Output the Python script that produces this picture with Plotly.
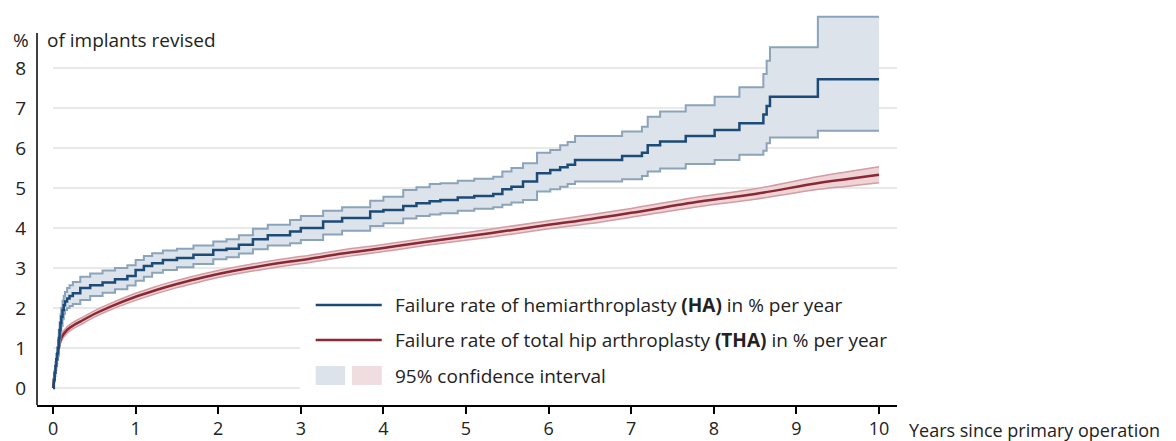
import plotly.graph_objects as go

# hemiarthroplasty (HA): Kaplan-Meier style steps, % revised
ha_years = [0, 0.01, 0.02, 0.03, 0.04, 0.05, 0.06, 0.07, 0.08, 0.09, 0.1, 0.115,
            0.13, 0.145, 0.17, 0.2, 0.24, 0.33, 0.45, 0.6, 0.75, 0.9,
            1.0, 1.1, 1.2, 1.33, 1.5, 1.7, 1.94, 2.1, 2.25, 2.42, 2.6, 2.87,
            3.0, 3.27, 3.5, 3.84, 4.0, 4.24, 4.4, 4.56, 4.69, 4.9, 5.1, 5.33,
            5.44, 5.55, 5.69, 5.86, 6.02, 6.14, 6.23, 6.32, 6.89, 7.13, 7.2,
            7.35, 7.66, 8.01, 8.31, 8.6, 8.64, 8.68, 9.26, 10.0]
ha_rate = [0, 0.2, 0.38, 0.55, 0.72, 0.86, 1.0, 1.25, 1.45, 1.62, 1.78, 1.95,
           2.07, 2.16, 2.24, 2.3, 2.37, 2.5, 2.57, 2.64, 2.72, 2.8,
           2.95, 3.05, 3.12, 3.2, 3.25, 3.33, 3.45, 3.48, 3.58, 3.72, 3.82, 3.91,
           4.0, 4.16, 4.25, 4.41, 4.45, 4.55, 4.62, 4.67, 4.7, 4.76, 4.8, 4.85,
           4.97, 5.03, 5.16, 5.37, 5.45, 5.52, 5.58, 5.7, 5.8, 5.88, 6.07,
           6.16, 6.3, 6.45, 6.62, 6.84, 7.05, 7.28, 7.72, 7.72]
ha_upper = [0, 0.25, 0.45, 0.65, 0.85, 1.02, 1.2, 1.45, 1.65, 1.84, 2.0, 2.18,
            2.3, 2.4, 2.5, 2.57, 2.65, 2.78, 2.86, 2.94, 3.0, 3.07,
            3.2, 3.3, 3.37, 3.44, 3.48, 3.56, 3.66, 3.72, 3.82, 3.98, 4.08, 4.2,
            4.3, 4.43, 4.52, 4.68, 4.78, 4.95, 5.02, 5.1, 5.12, 5.18, 5.23, 5.28,
            5.41, 5.5, 5.62, 5.88, 5.95, 6.07, 6.15, 6.3, 6.41, 6.53, 6.78,
            6.91, 7.07, 7.28, 7.52, 7.85, 8.18, 8.52, 9.28, 9.28]
ha_lower = [0, 0.15, 0.3, 0.45, 0.6, 0.7, 0.8, 1.05, 1.25, 1.4, 1.55, 1.72,
            1.85, 1.95, 2.0, 2.05, 2.1, 2.2, 2.3, 2.38, 2.47, 2.56,
            2.68, 2.78, 2.88, 2.95, 3.02, 3.1, 3.22, 3.27, 3.36, 3.47, 3.56, 3.62,
            3.7, 3.84, 3.93, 4.05, 4.12, 4.24, 4.3, 4.34, 4.37, 4.43, 4.48, 4.52,
            4.58, 4.64, 4.7, 4.91, 4.97, 5.03, 5.1, 5.16, 5.22, 5.3, 5.41,
            5.49, 5.6, 5.7, 5.83, 5.93, 6.12, 6.26, 6.43, 6.43]

# total hip arthroplasty (THA)
tha_years = [0, 0.02, 0.04, 0.07, 0.1, 0.17, 0.25, 0.33, 0.5, 0.69, 1.0, 1.25,
             1.5, 1.75, 2.0, 2.38, 2.87, 3.11, 3.5, 4.0, 4.5, 5.29, 6.0, 6.5,
             7.0, 7.83, 8.5, 9.25, 9.6, 10.0]
tha_rate = [0, 0.35, 0.62, 1.0, 1.25, 1.45, 1.57, 1.66, 1.85, 2.03, 2.28, 2.45,
            2.6, 2.73, 2.85, 3.0, 3.16, 3.23, 3.36, 3.5, 3.65, 3.87, 4.08, 4.22,
            4.38, 4.66, 4.85, 5.12, 5.22, 5.33]
tha_upper = [0, 0.38, 0.67, 1.07, 1.33, 1.53, 1.65, 1.74, 1.93, 2.11, 2.37, 2.54,
             2.69, 2.82, 2.94, 3.09, 3.25, 3.32, 3.45, 3.59, 3.74, 3.97, 4.18, 4.33,
             4.49, 4.78, 4.98, 5.28, 5.40, 5.53]
tha_lower = [0, 0.32, 0.57, 0.93, 1.17, 1.37, 1.49, 1.58, 1.77, 1.95, 2.19, 2.36,
             2.51, 2.64, 2.76, 2.91, 3.07, 3.14, 3.27, 3.41, 3.56, 3.77, 3.98, 4.11,
             4.27, 4.54, 4.72, 4.96, 5.04, 5.13]

x_ticks = list(range(0, 11))
y_ticks = list(range(0, 9))

FONT = "Open Sans"
TXT = "#222222"
HA_LINE = "#1d4b78"
HA_EDGE = "#8ba4bc"
HA_FILL = "#dde3ea"
THA_LINE = "#8c2734"
THA_EDGE = "#d29ca3"
THA_FILL = "#eed4d7"
GRID = "#e9e9e9"

fig = go.Figure()

# THA band + line
fig.add_trace(go.Scatter(x=tha_years, y=tha_lower, mode="lines", line_shape="spline",
                         line=dict(color=THA_EDGE, width=1.5), hoverinfo="skip"))
fig.add_trace(go.Scatter(x=tha_years, y=tha_upper, mode="lines", line_shape="spline",
                         line=dict(color=THA_EDGE, width=1.5), fill="tonexty",
                         fillcolor=THA_FILL, hoverinfo="skip"))
fig.add_trace(go.Scatter(x=tha_years, y=tha_rate, mode="lines", line_shape="spline",
                         line=dict(color=THA_LINE, width=2.5)))

# HA band + line
fig.add_trace(go.Scatter(x=ha_years, y=ha_lower, mode="lines", line_shape="hv",
                         line=dict(color=HA_EDGE, width=2), hoverinfo="skip"))
fig.add_trace(go.Scatter(x=ha_years, y=ha_upper, mode="lines", line_shape="hv",
                         line=dict(color=HA_EDGE, width=2), fill="tonexty",
                         fillcolor=HA_FILL, hoverinfo="skip"))
fig.add_trace(go.Scatter(x=ha_years, y=ha_rate, mode="lines", line_shape="hv",
                         line=dict(color=HA_LINE, width=2.5)))

shapes = []
# horizontal grid lines
for v in y_ticks:
    shapes.append(dict(type="line", layer="below", xref="x", yref="y",
                       x0=0, x1=10.22, y0=v, y1=v,
                       line=dict(color=GRID, width=2)))
# white box behind the legend hides the grid there
shapes.append(dict(type="rect", layer="below", xref="x", yref="y",
                   x0=2.99, x1=10.3, y0=-0.4, y1=2.7,
                   fillcolor="white", line=dict(width=0)))
# y axis line (stops below the header)
shapes.append(dict(type="line", xref="paper", yref="y", x0=0, x1=0,
                   y0=-0.425, y1=8.875, line=dict(color="black", width=1.5)))
# legend keys
shapes.append(dict(type="line", xref="x", yref="y", x0=3.18, x1=3.98,
                   y0=2.075, y1=2.075, line=dict(color=HA_LINE, width=2.5)))
shapes.append(dict(type="line", xref="x", yref="y", x0=3.18, x1=3.98,
                   y0=1.2, y1=1.2, line=dict(color=THA_LINE, width=2.5)))
shapes.append(dict(type="rect", xref="x", yref="y", x0=3.18, x1=3.535,
                   y0=0.075, y1=0.55, fillcolor=HA_FILL, line=dict(width=0)))
shapes.append(dict(type="rect", xref="x", yref="y", x0=3.62, x1=3.98,
                   y0=0.075, y1=0.55, fillcolor="#f0dde0", line=dict(width=0)))

annotations = [
    dict(x=4.116, y=2.075, xref="x", yref="y", xanchor="left", yanchor="middle",
         text="Failure rate of hemiarthroplasty <b>(HA)</b> in % per year", showarrow=False),
    dict(x=4.116, y=1.2, xref="x", yref="y", xanchor="left", yanchor="middle",
         text="Failure rate of total hip arthroplasty <b>(THA)</b> in % per year", showarrow=False),
    dict(x=4.116, y=0.3, xref="x", yref="y", xanchor="left", yanchor="middle",
         text="95% confidence interval", showarrow=False),
    dict(x=0, y=8.7, xref="paper", yref="y", xanchor="right", yanchor="middle",
         xshift=-6, text="%", showarrow=False),
    dict(x=0, y=8.7, xref="paper", yref="y", xanchor="left", yanchor="middle",
         xshift=8, text="of implants revised", showarrow=False),
    dict(x=1.0116, y=-0.062, xref="paper", yref="paper", xanchor="left", yanchor="middle",
         text="Years since primary operation", font=dict(size=18), showarrow=False),
]

fig.update_layout(
    width=1176, height=441,
    margin=dict(l=37, r=279, t=8, b=36),
    paper_bgcolor="white", plot_bgcolor="white",
    font=dict(family=FONT, size=19, color=TXT),
    showlegend=False,
    shapes=shapes,
    annotations=annotations,
    xaxis=dict(range=[-0.194, 10.218], tickvals=x_ticks, showgrid=False,
               zeroline=False, showline=True, linecolor="black", linewidth=1.5,
               ticks="outside", ticklen=7, tickcolor="black", tickwidth=1.5,
               ticklabelstandoff=0, tickfont=dict(size=18), automargin=False),
    yaxis=dict(range=[-0.425, 9.5], tickvals=y_ticks, showgrid=False,
               zeroline=False, showline=False, ticks="",
               ticklabelstandoff=10, automargin=False),
)

# page body has a default 8px margin; drop it so the figure fills the window
fig.write_html("out.html", config={"displayModeBar": False},
               post_script="document.body.style.margin='0';")
